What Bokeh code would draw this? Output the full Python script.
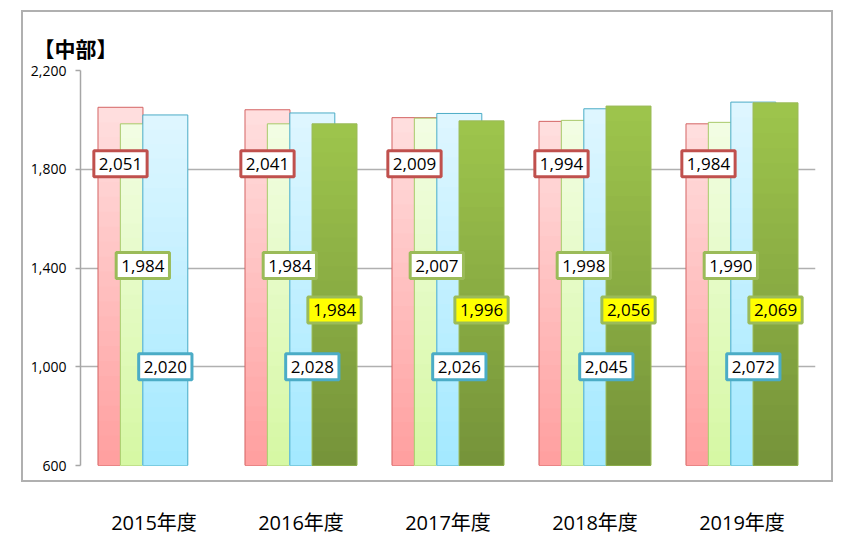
from bokeh.plotting import figure
from bokeh.models import (ColumnDataSource, FixedTicker, NumeralTickFormatter,
                          Range1d, FactorRange)
from bokeh.transform import dodge
from bokeh.core.properties import value
from bokeh.embed import file_html
from bokeh.resources import INLINE

# ---- data ----
years = ["2015年度", "2016年度", "2017年度", "2018年度", "2019年度"]
series_a = [2051, 2041, 2009, 1994, 1984]
series_b = [1984, 1984, 2007, 1998, 1990]
series_c = [2020, 2028, 2026, 2045, 2072]
series_d = [None, 1984, 1996, 2056, 2069]
y_ticks = [600, 1000, 1400, 1800, 2200]
title_text = "【中部】"

BASE = 600
TOP = 2200
FONT = "'Open Sans', 'Noto Sans CJK JP'"

p = figure(x_range=FactorRange(*years, range_padding=0),
           y_range=Range1d(BASE, TOP),
           width=858, height=551, title=title_text,
           output_backend="svg", toolbar_location=None,
           min_border_left=80, min_border_right=43,
           min_border_top=70, min_border_bottom=86)
p.outline_line_color = None
p.background_fill_color = "white"
p.border_fill_color = None

# outer chart border drawn as CSS background on the plot host
G = "linear-gradient(#B0B0B0, #B0B0B0)"
p.styles = {
    "background-color": "white",
    "background-image": ", ".join([G] * 4),
    "background-position": "21px 10px, 21px 480px, 21px 10px, 831px 10px",
    "background-size": "812px 2px, 812px 2px, 2px 472px, 2px 472px",
    "background-repeat": "no-repeat",
}

p.title.text_font = "Noto Sans CJK JP"
p.title.text_font_size = "21px"
p.title.text_font_style = "bold"
p.title.text_color = "#000000"
p.title.align = "left"
p.title.offset = -47
p.title.standoff = 16

# axes
p.yaxis.ticker = FixedTicker(ticks=y_ticks)
p.yaxis.formatter = NumeralTickFormatter(format="0,0")
p.yaxis.major_label_text_font = FONT
p.yaxis.major_label_text_font_size = "14px"
p.yaxis.major_label_text_color = "#000000"
p.yaxis.axis_line_color = "#A6A6A6"
p.yaxis.axis_line_width = 1.5
p.yaxis.major_tick_out = 5
p.yaxis.major_tick_in = 0
p.yaxis.major_tick_line_color = "#A6A6A6"
p.yaxis.major_tick_line_width = 1.5
p.yaxis.minor_tick_line_color = None
p.yaxis.major_label_standoff = 9

p.ygrid.ticker = FixedTicker(ticks=y_ticks)
p.ygrid.grid_line_color = "#B0B0B0"
p.ygrid.grid_line_width = 1.5
p.xgrid.grid_line_color = None

p.xaxis.axis_line_color = None
p.xaxis.major_tick_line_color = None
p.xaxis.minor_tick_line_color = None
p.xaxis.major_label_standoff = 37
p.xaxis.major_label_text_font = FONT
p.xaxis.major_label_text_font_size = "20px"
p.xaxis.major_label_text_color = "#000000"


def hex2rgb(h):
    h = h.lstrip("#")
    return [int(h[i:i + 2], 16) for i in (0, 2, 4)]


def mix(c1, c2, t):
    a, b = hex2rgb(c1), hex2rgb(c2)
    return "#%02x%02x%02x" % tuple(round(a[i] + (b[i] - a[i]) * t) for i in range(3))


N = 24
WIDTH = 0.306

series = [
    # values, offset, top colour, bottom colour, outline, label y, label fill, label border
    (series_a, -0.228, "#FFDEDE", "#FFA0A0", "#D46464", 1822, "white", "#C0504D"),
    (series_b, -0.076, "#F2FDE3", "#D6F8A4", "#A8C96A", 1410, "white", "#9BBB59"),
    (series_c, 0.077, "#DEF6FF", "#A4E9FF", "#4BACC6", 1000, "white", "#4BACC6"),
    (series_d, 0.228, "#9DC44C", "#76943A", "#9BBB59", 1230, "#FFFF00", "#9BBB59"),
]

for vals, off, ctop, cbot, outline, ly, lfill, lborder in series:
    xs, tops, cols = [], [], []
    for k in range(N):
        col = mix(ctop, cbot, k / (N - 1))
        frac = 1 - k / N
        for yr, v in zip(years, vals):
            if v is None:
                continue
            xs.append(yr)
            tops.append(BASE + (v - BASE) * frac)
            cols.append(col)
    gsrc = ColumnDataSource(dict(x=xs, top=tops, color=cols))
    p.vbar(x=dodge("x", off, range=p.x_range), width=WIDTH, bottom=BASE, top="top",
           source=gsrc, fill_color="color", line_color=None)

    bx = [yr for yr, v in zip(years, vals) if v is not None]
    bv = [v for v in vals if v is not None]
    src = ColumnDataSource(dict(x=bx, v=bv))
    p.vbar(x=dodge("x", off, range=p.x_range), width=WIDTH, bottom=BASE, top="v",
           source=src, fill_color=None, line_color=outline, line_width=1)

for vals, off, ctop, cbot, outline, ly, lfill, lborder in series:
    bx = [yr for yr, v in zip(years, vals) if v is not None]
    bv = [v for v in vals if v is not None]
    src = ColumnDataSource(dict(x=bx, label=[f"{v:,}" for v in bv], ly=[ly] * len(bv)))
    p.text(x=dodge("x", off, range=p.x_range), y="ly", text="label", source=src,
           text_align="center", text_baseline="middle",
           text_font=value("Open Sans"), text_font_size="17px", text_color="#000000",
           background_fill_color=lfill, border_line_color=lborder,
           border_line_width=3, padding=(5, 7))

open("out.html", "w").write(file_html(p, INLINE))
